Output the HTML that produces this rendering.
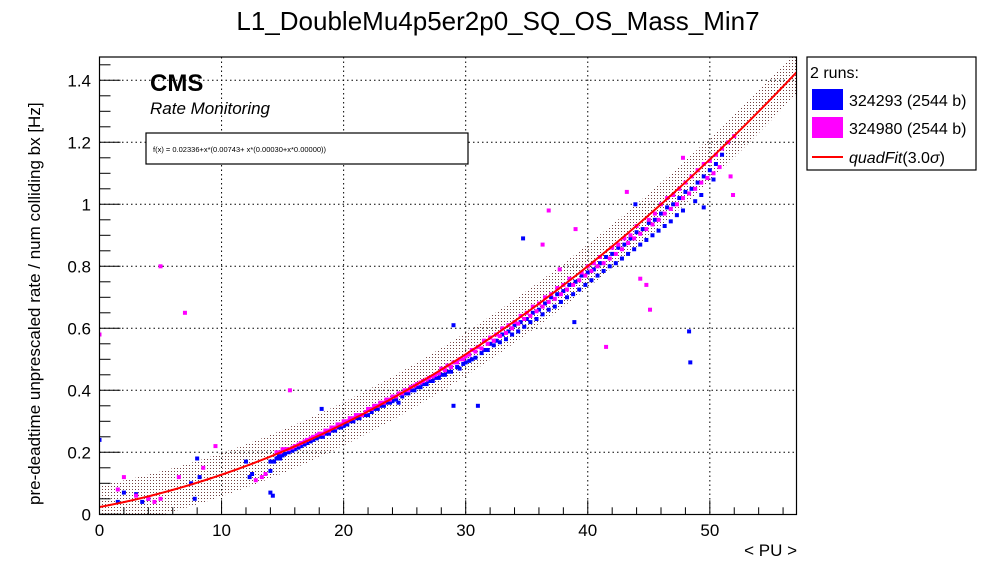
<!DOCTYPE html>
<html><head><meta charset="utf-8"><style>
body{margin:0;background:#fff;width:996px;height:572px;overflow:hidden;font-family:"Liberation Sans",sans-serif}
</style></head><body>
<svg id="chart" width="996" height="572" xmlns="http://www.w3.org/2000/svg" font-family="Liberation Sans, sans-serif">
<defs>
<pattern id="dots" width="3" height="3" patternUnits="userSpaceOnUse"><rect x="0" y="0" width="1" height="1" fill="#704040"/></pattern>
<clipPath id="plotclip"><rect x="99.5" y="57" width="697" height="457.5"/></clipPath>
</defs>
<text x="498" y="30" text-anchor="middle" font-size="26">L1_DoubleMu4p5er2p0_SQ_OS_Mass_Min7</text>
<g id="grid"></g>
<g id="band" clip-path="url(#plotclip)"></g>
<g id="pts" clip-path="url(#plotclip)"></g>
<g id="fit" clip-path="url(#plotclip)"></g>
<rect x="99.5" y="57" width="697" height="457.5" fill="none" stroke="#000" stroke-width="1.2"/>
<g id="axes"></g>
<text transform="translate(40,505) rotate(-90)" font-size="17">pre-deadtime unprescaled rate / num colliding bx [Hz]</text>
<text x="797" y="556" text-anchor="end" font-size="17">&lt; PU &gt;</text>
<text x="150" y="91" font-size="24" font-weight="bold">CMS</text>
<text x="150" y="114" font-size="17" font-style="italic">Rate Monitoring</text>
<g>
<rect x="146" y="133" width="322" height="31" fill="#fff" stroke="#000" stroke-width="1.2"/>
<text x="153" y="152" font-size="7.5">f(x) = 0.02336+x*(0.00743+ x*(0.00030+x*0.00000))</text>
</g>
<g>
<rect x="807" y="57" width="169" height="113" fill="#fff" stroke="#000" stroke-width="1.2"/>
<text x="810" y="78" font-size="16">2 runs:</text>
<rect x="812" y="89" width="31" height="21" fill="#0000ff"/>
<text x="849" y="106" font-size="16">324293 (2544 b)</text>
<rect x="812" y="117" width="31" height="21" fill="#ff00ff"/>
<text x="849" y="134" font-size="16">324980 (2544 b)</text>
<line x1="812" y1="157" x2="843" y2="157" stroke="#ff0000" stroke-width="2"/>
<text x="849" y="163" font-size="16"><tspan font-style="italic">quadFit</tspan>(3.0<tspan font-style="italic">σ</tspan>)</text>
</g>
</svg>
<script>
const fitParams=[0.02336,0.00743,0.00030];
const bandHalf=0.07;
const xTicks=[0,10,20,30,40,50];
const yTicks=[0,0.2,0.4,0.6,0.8,1,1.2,1.4];
const yTickLabels=["0","0.2","0.4","0.6","0.8","1","1.2","1.4"];
const blueX=[0,1.5,2,3,3.5,4,7.5,7.8,8,8.2,12,12.3,12.5,14,14,14.2,14,14.3,14.5,14.8,15,15.5,16,16.5,17,17.5,18.2,18,18.5,19,19.5,20,20.5,21,21.5,22,22.5,23,23.5,24,24.5,25,25.5,26,26.5,27,27.5,28,28.5,29,29,29.5,30,30.5,31,31.5,32,32.5,33,33.5,34,34.7,34.5,35,35.5,36,36.5,37,37.5,38,38.5,38.9,39,39.5,40,40.5,41,41.5,42,42.5,43,43.5,43.9,44,44.5,45,45.5,46,46.5,47,47.5,48,48.3,48.4,48.5,49,49.5,49.5,50,50.5,51,
14.7,15.2,15.8,16.3,16.8,17.3,17.8,18.3,18.8,19.3,19.8,20.3,20.8,21.3,21.8,22.3,22.8,23.3,23.8,24.3,24.8,25.3,25.8,26.3,26.8,27.3,27.8,28.3,28.8,29.3,29.8,30.3,30.8,31.3,31.8,32.3,32.8,33.3,33.8,34.3,34.8,35.3,35.8,36.3,36.8,37.3,37.8,38.3,38.8,39.3,39.8,40.3,40.8,41.3,41.8,42.3,42.8,43.3,43.8,44.3,44.8,45.3,45.8,46.3,46.8,47.3,47.8,48.8,49.3,50.3];
const blueY=[0.24,0.04,0.07,0.065,0.04,0.05,0.10,0.05,0.18,0.12,0.17,0.12,0.13,0.07,0.14,0.06,0.17,0.17,0.18,0.18,0.19,0.2,0.21,0.22,0.23,0.24,0.34,0.25,0.26,0.27,0.28,0.285,0.30,0.31,0.32,0.32,0.34,0.35,0.36,0.365,0.36,0.39,0.40,0.41,0.42,0.43,0.44,0.45,0.46,0.35,0.61,0.47,0.49,0.50,0.35,0.53,0.55,0.56,0.58,0.59,0.61,0.89,0.62,0.63,0.65,0.66,0.68,0.70,0.71,0.72,0.74,0.62,0.75,0.77,0.78,0.79,0.81,0.83,0.84,0.86,0.87,0.89,1.00,0.91,0.92,0.94,0.95,0.97,0.99,1.00,1.02,1.04,0.59,0.49,1.05,1.07,1.09,0.99,1.11,1.13,1.16,
0.19,0.195,0.205,0.215,0.225,0.235,0.245,0.25,0.26,0.27,0.28,0.29,0.30,0.31,0.32,0.33,0.34,0.35,0.36,0.37,0.38,0.39,0.40,0.41,0.42,0.43,0.44,0.45,0.46,0.475,0.485,0.495,0.505,0.52,0.53,0.545,0.555,0.565,0.58,0.59,0.605,0.62,0.63,0.645,0.66,0.67,0.685,0.70,0.71,0.725,0.74,0.755,0.77,0.785,0.80,0.81,0.825,0.84,0.855,0.87,0.885,0.90,0.915,0.93,0.945,0.965,0.98,1.01,1.03,1.08];
const magX=[0,1.5,2,3,4,4.5,5,5,6.5,7,8.5,9.5,12.8,13.3,13.6,14.5,15,15.6,15.5,16,16.5,17,17.5,18,18.5,19,19.5,20,20.5,21,21.5,22,22.5,23,23.5,24,24.5,25,25.5,26,26.5,27,27.5,28,28.5,29,29.5,30,30.5,31,31.5,32,32.5,33,33.5,34,34.5,35,35.5,36,36.3,36.5,36.8,37,37.5,37.7,38,38.5,39,39.5,40,40.5,41,41.5,42,42.5,43,43.2,43.5,44,44.3,44.8,45,45.1,45.5,46,46.5,47,47.5,47.8,48,48.5,49,49.5,50,50.5,51,51.5,51.7,51.9,52,
14.8,15.3,15.8,16.3,16.8,17.3,17.8,18.3,18.8,19.3,19.8,20.3,20.8,21.3,21.8,22.3,22.8,23.3,23.8,24.3,24.8,25.3,25.8,26.3,26.8,27.3,27.8,28.3,28.8,29.3,29.8,30.3,30.8,31.3,31.8,32.3,32.8,33.3,33.8,34.3,34.8,35.3,35.8,36.3,36.8,37.3,37.8,38.3,38.8,39.3,39.8,40.3,40.8,41.3,41.8,42.3,42.8,43.3,43.8,44.3,44.8,45.3,45.8,46.3,46.8,47.3,47.8,48.3,48.8,49.3,49.8,50.3,50.8];
const magY=[0.58,0.08,0.12,0.06,0.05,0.04,0.05,0.80,0.12,0.65,0.15,0.22,0.11,0.12,0.13,0.20,0.21,0.40,0.21,0.22,0.23,0.24,0.25,0.26,0.27,0.28,0.29,0.30,0.31,0.32,0.32,0.34,0.35,0.36,0.37,0.38,0.39,0.40,0.41,0.42,0.43,0.44,0.45,0.47,0.48,0.49,0.50,0.51,0.53,0.54,0.56,0.57,0.58,0.60,0.61,0.62,0.64,0.65,0.67,0.68,0.87,0.70,0.98,0.71,0.73,0.79,0.74,0.76,0.92,0.78,0.80,0.81,0.83,0.54,0.86,0.87,0.89,1.04,0.90,0.93,0.76,0.74,0.95,0.66,0.97,1.00,1.02,1.03,1.05,1.15,1.07,1.09,1.11,1.13,1.14,1.16,1.18,1.20,1.09,1.03,1.22,
0.20,0.21,0.215,0.225,0.235,0.245,0.255,0.26,0.27,0.28,0.29,0.30,0.31,0.32,0.33,0.34,0.35,0.36,0.37,0.38,0.39,0.40,0.415,0.425,0.435,0.445,0.455,0.465,0.475,0.49,0.50,0.515,0.525,0.535,0.55,0.56,0.575,0.585,0.60,0.615,0.63,0.64,0.655,0.67,0.685,0.695,0.71,0.725,0.74,0.755,0.77,0.785,0.80,0.81,0.825,0.84,0.855,0.875,0.89,0.905,0.92,0.935,0.95,0.97,0.985,1.00,1.02,1.035,1.05,1.07,1.085,1.10,1.12];
const NS='http://www.w3.org/2000/svg';
const X0=99.5,X1=796.5,XMAX=57.1,Y0=514.3,PXY=310;
function sx(v){return X0+v*(X1-X0)/XMAX;}
function sy(v){return Y0-v*PXY;}
function f(x){return fitParams[0]+x*(fitParams[1]+x*fitParams[2]);}
function mk(tag,attrs,parent){const e=document.createElementNS(NS,tag);for(const k in attrs)e.setAttribute(k,attrs[k]);parent.appendChild(e);return e;}
const grid=document.getElementById('grid'),axes=document.getElementById('axes');
xTicks.forEach(t=>{if(t>0){const l=mk('line',{x1:sx(t),x2:sx(t),y1:57,y2:514.3,stroke:'#000','stroke-dasharray':'1.5,3'},grid);}
 const tx=mk('text',{x:sx(t),y:536,'text-anchor':'middle','font-size':'17'},axes);tx.textContent=t;});
for(let v=0;v<=57;v+=2){mk('line',{x1:sx(v),x2:sx(v),y1:Y0,y2:Y0-(v%10==0?14:7),stroke:'#000'},axes);}
yTicks.forEach((t,i)=>{if(t>0){const l=mk('line',{x1:X0,x2:X1,y1:sy(t),y2:sy(t),stroke:'#000','stroke-dasharray':'1.5,3'},grid);}
 const tx=mk('text',{x:91,y:sy(t)+6,'text-anchor':'end','font-size':'17'},axes);tx.textContent=yTickLabels[i];});
for(let v=0;v<=1.47;v+=0.05){const major=Math.abs(v/0.2-Math.round(v/0.2))<0.01;mk('line',{x1:X0,x2:X0+(major?21:11),y1:sy(v),y2:sy(v),stroke:'#000'},axes);}
let up=[],dn=[],line=[];
for(let i=0;i<=120;i++){const x=i*XMAX/120;up.push(sx(x)+','+sy(f(x)+bandHalf));dn.unshift(sx(x)+','+sy(f(x)-bandHalf));line.push(sx(x)+','+sy(f(x)));}
const bp=mk('polygon',{points:up.concat(dn).join(' '),fill:'url(#dots)'},document.getElementById('band'));


const pg=document.getElementById('pts');
blueX.forEach((x,i)=>{const r=mk('rect',{x:sx(x)-2,y:sy(blueY[i])-2,width:4,height:4,fill:'#0000ff'},pg);});
magX.forEach((x,i)=>{const r=mk('rect',{x:sx(x)-2,y:sy(magY[i])-2,width:4,height:4,fill:'#ff00ff'},pg);});
const fl=mk('polyline',{points:line.join(' '),fill:'none',stroke:'#ff0000','stroke-width':2},document.getElementById('fit'));


</script>
</body></html>
